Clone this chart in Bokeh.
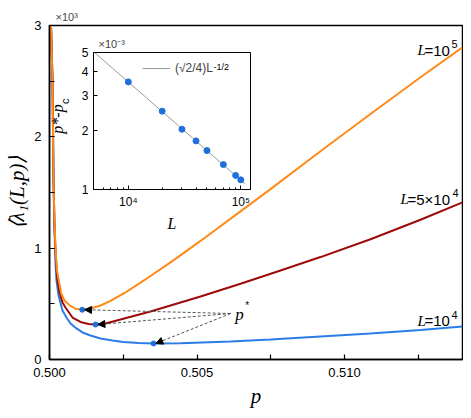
from bokeh.plotting import figure
from bokeh.models import (Range1d, FixedTicker, Label, Arrow, NormalHead, Legend, LegendItem,
                          CustomJSTickFormatter, ColumnDataSource, LogAxis)
from bokeh.embed import file_html
from bokeh.resources import INLINE

# ---------------- data (main panel, values in units of 10^3) ----------------
p_L1e5 = [0.500051, 0.500102, 0.500136, 0.500169, 0.500203, 0.500254, 0.500315, 0.500397,
          0.500508, 0.500688, 0.500881, 0.501108, 0.501390, 0.501729, 0.502068, 0.502576,
          0.503085, 0.503424, 0.504102, 0.505119, 0.506475, 0.507492, 0.509186, 0.510881,
          0.512576, 0.514]
v_L1e5 = [3.0, 2.507, 1.608, 1.249, 0.997, 0.800, 0.710, 0.593,
          0.530, 0.485, 0.456, 0.447, 0.458, 0.485, 0.526, 0.602,
          0.690, 0.750, 0.872, 1.065, 1.330, 1.530, 1.870, 2.205,
          2.535, 2.803]

p_L5e4 = [0.500051, 0.500102, 0.500136, 0.500169, 0.500203, 0.500237, 0.500271, 0.500339,
          0.500441, 0.500542, 0.500780, 0.501051, 0.501322, 0.501559, 0.501898, 0.502407,
          0.502915, 0.503424, 0.504102, 0.505119, 0.506475, 0.507831, 0.509186, 0.510881,
          0.512576, 0.514]
v_L5e4 = [3.0, 2.507, 1.608, 1.204, 0.979, 0.818, 0.710, 0.602,
          0.512, 0.467, 0.377, 0.337, 0.319, 0.314, 0.323, 0.359,
          0.395, 0.431, 0.485, 0.566, 0.680, 0.800, 0.920, 1.080,
          1.255, 1.411]

p_L1e4 = [0.500051, 0.500102, 0.500136, 0.500169, 0.500203, 0.500237, 0.500305, 0.500441,
          0.500576, 0.500712, 0.500915, 0.501119, 0.501390, 0.501729, 0.502136, 0.502508,
          0.503017, 0.503525, 0.504441, 0.506136, 0.507492, 0.509186, 0.510881, 0.512576,
          0.514]
v_L1e4 = [3.0, 2.507, 1.608, 1.159, 0.872, 0.710, 0.575, 0.440,
          0.377, 0.323, 0.279, 0.243, 0.216, 0.189, 0.171, 0.157,
          0.148, 0.144, 0.146, 0.162, 0.180, 0.207, 0.234, 0.265,
          0.296]

p_min = [0.50111, 0.50156, 0.503525]
v_min = [0.447, 0.314, 0.144]

x_ticks = [0.500, 0.505, 0.510]
x_minor = [0.5025, 0.5075, 0.5125]
y_ticks = [0, 1, 2, 3]
y_minor = [0.5, 1.5, 2.5]

# ---------------- data (inset) ----------------
L_vals = [1e4, 2e4, 3e4, 4e4, 5e4, 7e4, 9e4, 1e5]
dp_vals = [3.54e-3, 2.51e-3, 2.03e-3, 1.77e-3, 1.58e-3, 1.34e-3, 1.18e-3, 1.12e-3]
L_fit = [5000, 1.09e5]
dp_fit = [5.0e-3, 1.07e-3]
ins_x_lim = [4900, 1.22e5]
ins_y_lim = [1e-3, 5e-3]
ins_x_ticks = [1e4, 1e5]
ins_x_minor = [6000, 7000, 8000, 9000, 2e4, 3e4, 4e4, 5e4, 6e4, 7e4, 8e4, 9e4]
ins_y_ticks = [1e-3, 2e-3, 3e-3, 4e-3, 5e-3]

ORANGE = "#FF8A17"
DARKRED = "#9C0A0A"
BLUE = "#2B7DE6"
DOT = "#1E6FDA"
SANS = "Liberation Sans"
SERIF = "Liberation Serif"
NBSP = "\u00a0"


def lab(fig, x, y, text, size, font=SANS, style="normal", dx=0, dy=0, align="left",
        baseline="alphabetic", angle=0):
    fig.add_layout(Label(x=x, y=y, text=text, x_offset=dx, y_offset=dy, text_font=font,
                         text_font_size=size, text_font_style=style, text_align=align,
                         text_baseline=baseline, angle=angle, text_color="black"))


# ---------------- main figure ----------------
p = figure(width=463, height=410, x_range=Range1d(0.5, 0.514), y_range=Range1d(0, 3),
           output_backend="svg", toolbar_location=None,
           min_border_left=49, min_border_right=1, min_border_top=25, min_border_bottom=51)
p.grid.visible = False
p.outline_line_color = "black"
p.outline_line_width = 1.5
p.outline_line_alpha = 1.0
p.background_fill_color = "white"

for ax in (p.xaxis[0], p.yaxis[0]):
    ax.axis_line_width = 1.5
    ax.major_tick_in = 5
    ax.major_tick_out = 0
    ax.minor_tick_in = 5
    ax.minor_tick_out = 0
    ax.major_tick_line_width = 1.2
    ax.minor_tick_line_width = 1.2
    ax.major_label_text_font = SANS
    ax.major_label_text_font_size = "13px"
    ax.major_label_text_color = "black"
    ax.major_label_standoff = 8
    ax.axis_label_text_font = SERIF
    ax.axis_label_text_font_style = "italic"
    ax.axis_label_text_font_size = "21px"
    ax.axis_label_text_color = "black"

p.xaxis.ticker = FixedTicker(ticks=x_ticks, minor_ticks=x_minor)
p.xaxis.formatter = CustomJSTickFormatter(code="return tick.toFixed(3);")
p.yaxis.ticker = FixedTicker(ticks=y_ticks, minor_ticks=y_minor)
p.yaxis.formatter = CustomJSTickFormatter(code="return tick.toFixed(0);")
p.xaxis.axis_label = "p"
p.xaxis.axis_label_standoff = 4
p.yaxis.axis_label = "\u27e8\u03bb\u2081(L,p)\u27e9"
p.yaxis.axis_label_standoff = 2

p.title.text = "\u00d710\u00b3"
p.title.text_font = SANS
p.title.text_font_size = "11px"
p.title.text_font_style = "normal"
p.title.align = "left"
p.title.offset = 6
p.title.standoff = 5

p.line(p_L1e4, v_L1e4, line_color=BLUE, line_width=2)
p.line(p_L5e4, v_L5e4, line_color=DARKRED, line_width=2)
p.line(p_L1e5, v_L1e5, line_color=ORANGE, line_width=2)

# arrows from the p* label to the minima
pstar_x, pstar_y = 0.50614, 0.413
tip_dx = 0.00008
arrow_src = ColumnDataSource(dict(xs=[pstar_x] * len(p_min), ys=[pstar_y] * len(p_min),
                                  xe=[x + tip_dx for x in p_min], ye=v_min))
p.add_layout(Arrow(source=arrow_src, x_start="xs", y_start="ys", x_end="xe", y_end="ye",
                   line_color="#555555", line_width=1, line_dash="3 2",
                   end=NormalHead(size=7, fill_color="black", line_color="black", line_width=1)))
p.scatter(p_min, v_min, size=5, color=DOT)

# p* label
lab(p, 0.50630, 0.405, "p", "17px", SERIF, "italic")
lab(p, 0.50630, 0.405, "*", "10px", SANS, dx=10, dy=9)

# curve labels
lab(p, 0.512475, 2.776, "L", "15px", SERIF, "italic")
lab(p, 0.512475, 2.776, "=10", "15px", dx=7)
lab(p, 0.512475, 2.776, "5", "11px", dx=34, dy=6)

lab(p, 0.511898, 1.4376, "L", "15px", SERIF, "italic")
lab(p, 0.511898, 1.4376, "=5\u00d710", "15px", dx=7)
lab(p, 0.511898, 1.4376, "4", "11px", dx=52, dy=6)

lab(p, 0.512475, 0.350, "L", "15px", SERIF, "italic")
lab(p, 0.512475, 0.350, "=10", "15px", dx=7)
lab(p, 0.512475, 0.350, "4", "11px", dx=34, dy=6)

# ---------------- inset ----------------
ins = figure(width=221, height=201, x_axis_type="log", y_axis_type="log",
             x_range=Range1d(*ins_x_lim), y_range=Range1d(*ins_y_lim),
             output_backend="svg", toolbar_location=None,
             min_border_left=54, min_border_right=10, min_border_top=19, min_border_bottom=42)
ins.grid.visible = False
ins.background_fill_color = "white"
ins.background_fill_alpha = 1.0
ins.border_fill_alpha = 0
ins.outline_line_color = "black"
ins.outline_line_width = 1
ins.outline_line_alpha = 1.0
for ax in (ins.xaxis[0], ins.yaxis[0]):
    ax.axis_line_width = 1
    ax.major_tick_in = 4
    ax.major_tick_out = 0
    ax.minor_tick_in = 2
    ax.minor_tick_out = 0
    ax.major_label_text_font = SANS
    ax.major_label_text_font_size = "12px"
    ax.major_label_text_color = "black"
    ax.major_label_standoff = 5
ins.xaxis.ticker = FixedTicker(ticks=ins_x_ticks, minor_ticks=ins_x_minor)
ins.xaxis.formatter = CustomJSTickFormatter(code="return tick > 5e4 ? '10\u2075' : '10\u2074';")
ins.yaxis.ticker = FixedTicker(ticks=ins_y_ticks, minor_ticks=[])
ins.yaxis.formatter = CustomJSTickFormatter(code="return (tick*1000).toFixed(0);")
ins.xaxis.axis_label = "L"
ins.xaxis.axis_label_text_font = SERIF
ins.xaxis.axis_label_text_font_style = "italic"
ins.xaxis.axis_label_text_font_size = "16px"
ins.xaxis.axis_label_text_color = "black"
ins.xaxis.axis_label_standoff = 3

# y label p*-p_c: subscript "c" on the real axis, "p*-p" on an outer label-only axis
ins.yaxis.axis_label = NBSP * 13 + "c"
ins.yaxis.axis_label_text_font = SANS
ins.yaxis.axis_label_text_font_style = "normal"
ins.yaxis.axis_label_text_font_size = "11px"
ins.yaxis.axis_label_text_color = "black"
ins.yaxis.axis_label_standoff = 8
outer = LogAxis(ticker=FixedTicker(ticks=[], minor_ticks=[]), axis_label=NBSP + "p*-p",
                axis_line_alpha=0, major_tick_in=0, major_tick_out=0, minor_tick_in=0,
                minor_tick_out=0, major_label_text_font_size="0px",
                axis_label_standoff=-10, axis_label_text_font=SERIF,
                axis_label_text_font_style="italic", axis_label_text_font_size="16px",
                axis_label_text_color="black")
ins.add_layout(outer, "left")

ins.title.text = "\u00d710\u207b\u00b3"
ins.title.text_font = SANS
ins.title.text_font_size = "11px"
ins.title.text_font_style = "normal"
ins.title.align = "left"
ins.title.offset = 5
ins.title.standoff = 5

fit_r = ins.line(L_fit, dp_fit, line_color="#9a9a9a", line_width=1)
ins.scatter(L_vals, dp_vals, size=6, color=DOT)

leg = Legend(items=[LegendItem(label="(\u221a2/4)L", renderers=[fit_r])], location=(49, 114),
             background_fill_alpha=0, border_line_alpha=0, padding=0, margin=0, spacing=0,
             glyph_width=28, glyph_height=14, label_height=14, label_standoff=5,
             label_text_font=SANS, label_text_font_size="12px")
ins.add_layout(leg)
lab(ins, ins_x_lim[0], ins_y_lim[1], "-1/2", "9px", dx=120, dy=-14)

ins.styles = {"position": "absolute", "left": "39px", "top": "33px"}

open("out.html", "w").write(file_html([p, ins], INLINE))
